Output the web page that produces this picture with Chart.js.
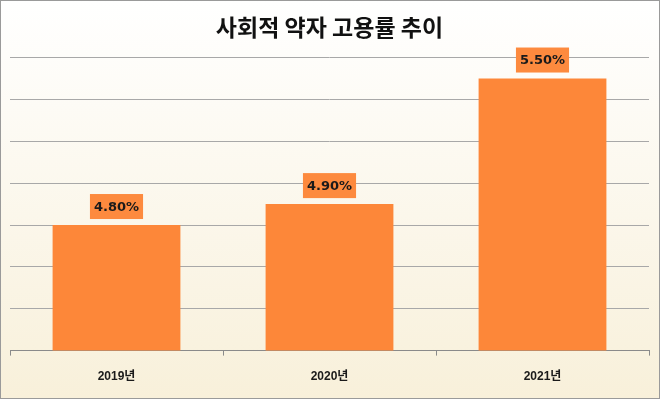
<!DOCTYPE html>
<html>
<head>
<meta charset="utf-8">
<script src="https://cdn.jsdelivr.net/npm/chart.js@4"></script>
<style>
  html, body { margin: 0; padding: 0; background: #fff; }
  #wrap { position: relative; width: 658px; height: 397px; border: 1px solid #9a9a9a; }
</style>
</head>
<body>
<div id="wrap"><canvas id="chart" width="658" height="397"></canvas></div>
<script>
const years = ['2019년', '2020년', '2021년'];
const rates = [4.80, 4.90, 5.50];
const yTicks = [4.2, 4.4, 4.6, 4.8, 5.0, 5.2, 5.4, 5.6];

const barColor = '#fd8739';

// cream gradient behind everything
const bgPlugin = {
  id: 'bg',
  beforeDraw(chart) {
    const { ctx, width, height } = chart;
    const g = ctx.createLinearGradient(0, 0, 0, height);
    g.addColorStop(0, '#ffffff');
    g.addColorStop(1, '#f8f0da');
    ctx.save();
    ctx.fillStyle = g;
    ctx.fillRect(0, 0, width, height);
    ctx.restore();
  }
};

// orange value boxes above the bars
const valueBoxes = {
  id: 'valueBoxes',
  afterDatasetsDraw(chart) {
    const ctx = chart.ctx;
    const meta = chart.getDatasetMeta(0);
    ctx.save();
    ctx.font = 'bold 13px "DejaVu Sans", sans-serif';
    ctx.textAlign = 'center';
    ctx.textBaseline = 'middle';
    meta.data.forEach((bar, i) => {
      const txt = rates[i].toFixed(2) + '%';
      const w = ctx.measureText(txt).width + 8;
      const h = 25;
      const bottom = bar.y - 6;
      ctx.fillStyle = '#fd8a3e';
      ctx.fillRect(bar.x - w / 2, bottom - h, w, h);
      ctx.fillStyle = '#1a1a1a';
      ctx.fillText(txt, bar.x, bottom - h / 2 + 1);
    });
    ctx.restore();
  }
};

new Chart(document.getElementById('chart'), {
  type: 'bar',
  data: {
    labels: years,
    datasets: [{
      data: rates,
      backgroundColor: barColor,
      borderWidth: 0,
      barPercentage: 0.6,
      categoryPercentage: 1
    }]
  },
  options: {
    responsive: false,
    animation: false,
    layout: { padding: { left: 9, right: 10, top: 0, bottom: 0 } },
    plugins: {
      legend: { display: false },
      tooltip: { enabled: false },
      title: {
        display: true,
        text: '사회적 약자 고용률 추이',
        color: '#111',
        font: { family: '"Noto Sans CJK KR", sans-serif', size: 23, weight: 'bold' },
        padding: { top: 12, bottom: 17 }
      }
    },
    scales: {
      x: {
        grid: { drawOnChartArea: false, drawTicks: true, tickLength: 5, color: '#8a8a8a' },
        border: { color: '#8a8a8a', width: 1 },
        ticks: {
          color: '#1a1a1a',
          padding: 14,
          font: { family: '"Liberation Sans", "Noto Sans CJK KR", sans-serif', size: 12, weight: 'bold' }
        }
      },
      y: {
        min: yTicks[0],
        max: yTicks[yTicks.length - 1],
        afterBuildTicks(axis) { axis.ticks = yTicks.map(v => ({ value: v })); },
        grid: { color: '#a8a8a8', drawTicks: false },
        border: { display: false },
        ticks: { display: false }
      }
    }
  },
  plugins: [bgPlugin, valueBoxes]
});
</script>
</body>
</html>
